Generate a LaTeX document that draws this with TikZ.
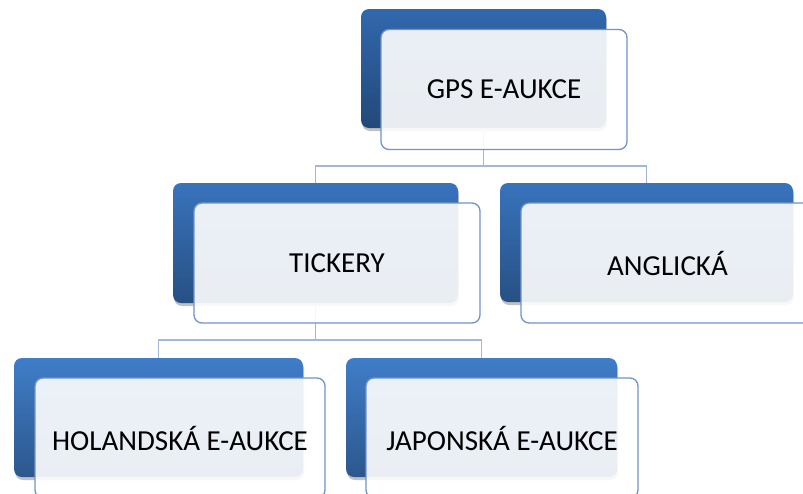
\documentclass[tikz,border=0pt]{standalone}
\usepackage{fontspec}
\setmainfont{Carlito}
\usetikzlibrary{shadows}
\definecolor{conn}{HTML}{A3B7DA}
\definecolor{frontline}{HTML}{7392C6}
\definecolor{bluea}{HTML}{3168AD}
\definecolor{blueb}{HTML}{3873BC}
\definecolor{bluec}{HTML}{3F7DC8}
\tikzset{
  x=1pt, y=-1pt,
  backbox/.style={rounded corners=8pt, draw=none, inner sep=0pt,
    drop shadow={shadow xshift=1pt, shadow yshift=-3pt, opacity=0.3, fill=black!80}},
  lvla/.style={backbox, top color=#1, bottom color=#1!70!black},
  frontbox/.style={rounded corners=8pt, draw=frontline, line width=1.3pt, fill=white,
    fill opacity=0.9, text opacity=1, inner sep=0pt, font=\fontsize{29}{33}\selectfont},
  connector/.style={draw=conn, line width=1.4pt}
}
\begin{document}
\begin{tikzpicture}
\useasboundingbox (0,0) rectangle (803,493);
\coordinate (bus1) at (483.5,166);
\coordinate (bus2) at (315.5,340);
% back boxes
\node[lvla=bluea, minimum width=245pt, minimum height=119pt] (gb) at (483.5,68.5) {};
\node[lvla=blueb, minimum width=285pt, minimum height=120pt] (tb) at (315.5,243) {};
\node[lvla=blueb, minimum width=293pt, minimum height=119pt] (ab) at (646.5,242.5) {};
\node[lvla=bluec, minimum width=289pt, minimum height=119pt] (hb) at (158.5,417.5) {};
\node[lvla=bluec, minimum width=271pt, minimum height=119pt] (jb) at (481.5,417.5) {};
% connectors
\draw[connector] (gb.south) -- (bus1) -| (tb.north);
\draw[connector] (bus1) -| (ab.north);
\draw[connector] (tb.south) -- (bus2) -| (hb.north);
\draw[connector] (bus2) -| (jb.north);
% front boxes
\node[frontbox, minimum width=246pt, minimum height=120pt] (g) at (504,89.5) {GPS E-AUKCE};
\node[frontbox, minimum width=286pt, minimum height=120pt] (t) at (337,263) {TICKERY};
\node[frontbox, minimum width=293pt, minimum height=120pt] (a) at (667.5,263) {ANGLICKÁ};
\node[frontbox, minimum width=290pt, minimum height=120pt] (h) at (180,438) {HOLANDSKÁ E-AUKCE};
\node[frontbox, minimum width=272pt, minimum height=120pt] (j) at (502,438) {JAPONSKÁ E-AUKCE};
\end{tikzpicture}
\end{document}
